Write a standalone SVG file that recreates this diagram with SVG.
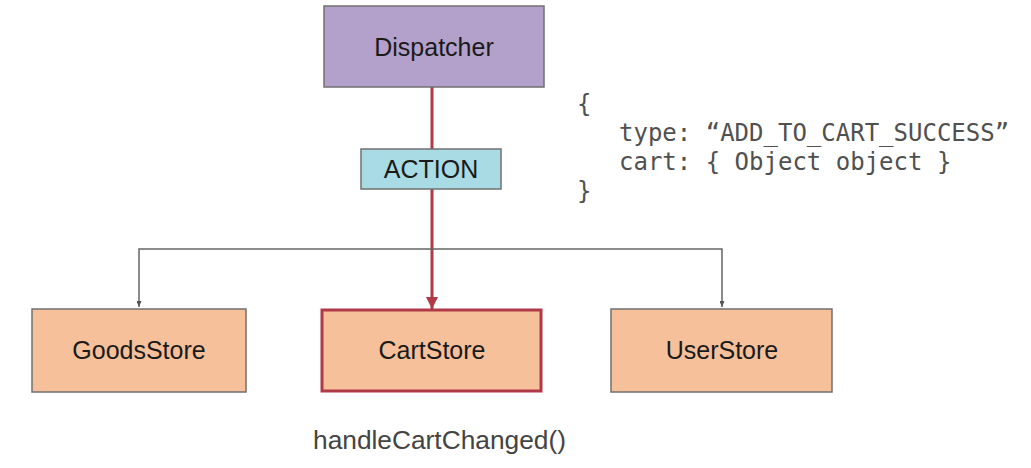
<svg xmlns="http://www.w3.org/2000/svg" width="1031" height="468" viewBox="0 0 1031 468">
<style>
.lbl{font-family:"Liberation Sans",Arial,sans-serif;font-size:25px;fill:#1a1a1a;text-anchor:middle}
.store{fill:#f5c09a;stroke:#707070;stroke-width:1.5}
.code{font-family:"DejaVu Sans Mono","Liberation Mono",monospace;font-size:24px;fill:#505050}
.gray{stroke:#666;stroke-width:1.5;fill:none}
.red{stroke:#b03a48;stroke-width:3;fill:none}
</style>
<defs>
<marker id="ag" viewBox="0 0 6 5" refX="6" refY="2.5" markerWidth="6" markerHeight="5" markerUnits="userSpaceOnUse" orient="auto"><path d="M0,0L6,2.5L0,5z" fill="#555"/></marker>
<marker id="ar" viewBox="0 0 12 12" refX="12" refY="6" markerWidth="12" markerHeight="12" markerUnits="userSpaceOnUse" orient="auto"><path d="M0,0L12,6L0,12z" fill="#b03a48"/></marker>
</defs>
<rect width="1031" height="468" fill="#ffffff"/>
<g id="connectors">
<line class="red" x1="432" y1="87" x2="432" y2="149"/>
<line class="red" x1="432" y1="189" x2="432" y2="309" marker-end="url(#ar)"/>
<path class="gray" d="M432,249H139V307" marker-end="url(#ag)"/>
<path class="gray" d="M432,249H722V307" marker-end="url(#ag)"/>
</g>
<g id="dispatcher">
<rect x="324" y="6" width="220" height="81" fill="#b4a1cb" stroke="#707070" stroke-width="1.5"/>
<text class="lbl" x="434" y="56">Dispatcher</text>
</g>
<g id="action">
<rect x="361" y="149" width="140" height="40" fill="#a8dbe3" stroke="#707070" stroke-width="1.5"/>
<text class="lbl" x="431" y="178">ACTION</text>
</g>
<g id="goodsstore">
<rect class="store" x="32" y="309" width="214" height="83"/>
<text class="lbl" x="139" y="359">GoodsStore</text>
</g>
<g id="cartstore">
<rect x="322" y="310" width="219" height="81" fill="#f5c09a" stroke="#b03a48" stroke-width="3"/>
<text class="lbl" x="432" y="359">CartStore</text>
</g>
<g id="userstore">
<rect class="store" x="611" y="309" width="221" height="83"/>
<text class="lbl" x="722" y="359">UserStore</text>
</g>
<g id="payload">
<text class="code" x="577" y="112">{</text>
<text class="code" x="619" y="141">type: “ADD_TO_CART_SUCCESS”</text>
<text class="code" x="619" y="170">cart: { Object object }</text>
<text class="code" x="577" y="199">}</text>
</g>
<g id="handler">
<text x="313" y="449" font-family="Liberation Sans,Arial,sans-serif" font-size="26.3" fill="#444">handleCartChanged()</text>
</g>
</svg>
